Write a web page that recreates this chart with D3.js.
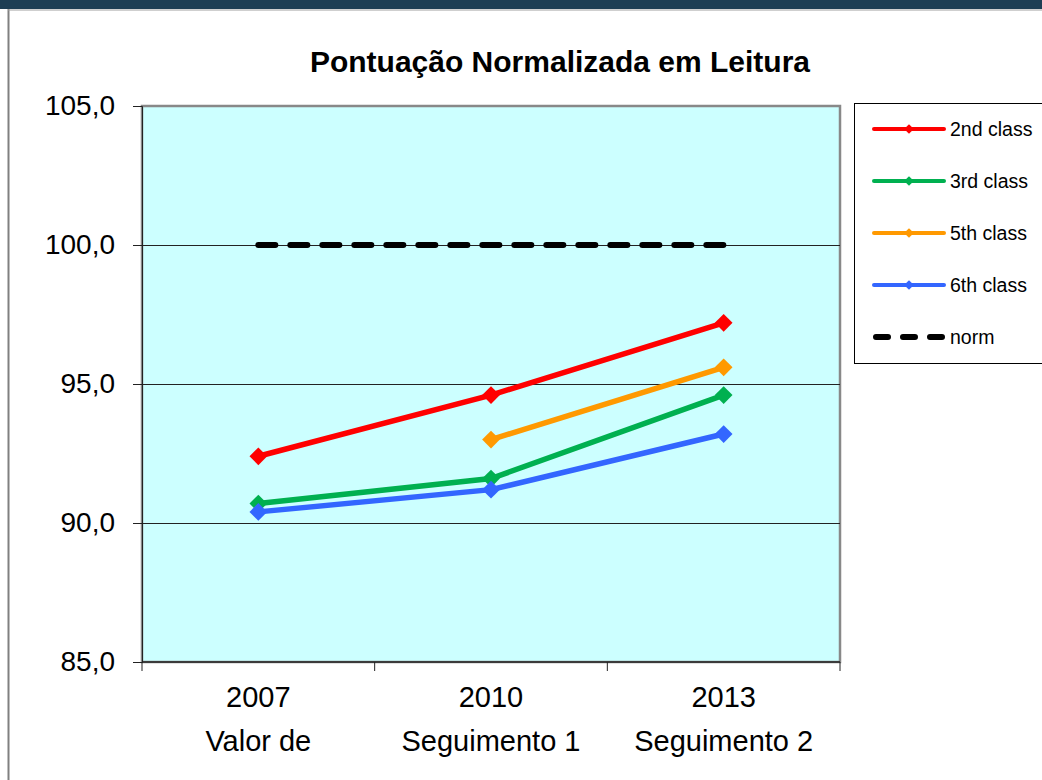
<!DOCTYPE html>
<html>
<head>
<meta charset="utf-8">
<script src="https://cdn.jsdelivr.net/npm/d3@7"></script>
<style>
  body { margin: 0; background: #fff; }
  text { font-family: "Liberation Sans", Arial, sans-serif; }
</style>
</head>
<body>
<div id="chart"></div>
<script>
// Data
const years = ["2007", "2010", "2013"];
const phases = ["Valor de", "Seguimento 1", "Seguimento 2"];
const class2 = [92.4, 94.6, 97.2];
const class3 = [90.7, 91.6, 94.6];
const class5 = [null, 93.0, 95.6];
const class6 = [90.4, 91.2, 93.2];
const norm = [100, 100, 100];
const yTicks = [85, 90, 95, 100, 105];

const seriesNames = ["2nd class", "3rd class", "5th class", "6th class"];
const seriesColors = ["#ff0000", "#00b050", "#ff9900", "#3366ff"];
const seriesValues = [class2, class3, class5, class6];

const width = 1042, height = 780;
const margin = { top: 106, right: 202, bottom: 118, left: 142 };

const svg = d3.select("#chart")
  .append("svg")
  .attr("width", width)
  .attr("height", height);

// frame
svg.append("rect").attr("x", 0).attr("y", 0).attr("width", width).attr("height", 9).attr("fill", "#1e3e54");
svg.append("line").attr("x1", 8.5).attr("x2", 8.5).attr("y1", 9).attr("y2", height)
  .attr("stroke", "#808080").attr("stroke-width", 2);
svg.append("line").attr("x1", 8).attr("x2", width).attr("y1", 10).attr("y2", 10)
  .attr("stroke", "#a0a0a0").attr("stroke-width", 1);

const x = d3.scaleBand()
  .domain(years)
  .range([margin.left, width - margin.right])
  .padding(0);

const y = d3.scaleLinear()
  .domain([85, 105])
  .range([height - margin.bottom, margin.top]);

const cx = d => x(d) + x.bandwidth() / 2;

// plot background
svg.append("rect")
  .attr("x", margin.left).attr("y", y(105))
  .attr("width", x.range()[1] - margin.left)
  .attr("height", y(85) - y(105))
  .attr("fill", "#ccffff")
  .attr("stroke", "#888")
  .attr("stroke-width", 2.5);

// gridlines
svg.selectAll(".grid")
  .data([90, 95, 100])
  .enter().append("line")
  .attr("x1", margin.left).attr("x2", x.range()[1])
  .attr("y1", d => Math.round(y(d)) + 0.5).attr("y2", d => Math.round(y(d)) + 0.5)
  .attr("stroke", "#222").attr("stroke-width", 1);

// y axis
const yAxis = svg.append("g")
  .attr("transform", `translate(${margin.left},0)`)
  .call(d3.axisLeft(y).tickValues(yTicks).tickSize(9).tickPadding(18)
    .tickFormat(d => d3.format(".1f")(d).replace(".", ",")));
yAxis.selectAll("text").style("font-size", "28px").style("fill", "#000")
  .style("font-family", "'Liberation Sans', Arial, sans-serif");
yAxis.selectAll("line, .domain").style("stroke", "#222");

// x axis
const xAxisY = y(85);
svg.append("line")
  .attr("x1", margin.left).attr("x2", x.range()[1])
  .attr("y1", xAxisY).attr("y2", xAxisY)
  .attr("stroke", "#222").attr("stroke-width", 1.5);
const bounds = years.map(d => x(d)).concat([x.range()[1]]);
svg.selectAll(".xtick")
  .data(bounds)
  .enter().append("line")
  .attr("x1", d => d).attr("x2", d => d)
  .attr("y1", xAxisY).attr("y2", xAxisY + 9)
  .attr("stroke", "#222").attr("stroke-width", 1);

const xLabels = svg.selectAll(".xlabel")
  .data(years)
  .enter().append("text")
  .attr("text-anchor", "middle")
  .style("font-size", "29px")
  .style("fill", "#000");
xLabels.append("tspan").attr("x", d => cx(d)).attr("y", 707).text(d => d);
xLabels.append("tspan").attr("x", d => cx(d)).attr("y", 751).text((d, i) => phases[i]);

// norm line
const line = d3.line()
  .defined(d => d[1] != null)
  .x(d => cx(d[0]))
  .y(d => y(d[1]));

svg.append("path")
  .datum(years.map((yr, i) => [yr, norm[i]]))
  .attr("d", line)
  .attr("fill", "none")
  .attr("stroke", "#000")
  .attr("stroke-width", 6)
  .attr("stroke-linecap", "round")
  .attr("stroke-dasharray", "17,15");

// series
const diamond = d3.symbol().type(d3.symbolDiamond2);
seriesValues.forEach((vals, s) => {
  const pts = years.map((yr, i) => [yr, vals[i]]);
  svg.append("path")
    .datum(pts)
    .attr("d", line)
    .attr("fill", "none")
    .attr("stroke", seriesColors[s])
    .attr("stroke-width", 5.5);
  svg.selectAll(null)
    .data(pts.filter(d => d[1] != null))
    .enter().append("path")
    .attr("transform", d => `translate(${cx(d[0])},${y(d[1])})`)
    .attr("d", diamond.size(200)())
    .attr("fill", seriesColors[s]);
});

// title
svg.append("text")
  .attr("x", 560).attr("y", 72)
  .attr("text-anchor", "middle")
  .style("font-size", "30px")
  .style("font-weight", "bold")
  .text("Pontuação Normalizada em Leitura");

// legend
const legend = svg.append("g");
legend.append("rect")
  .attr("x", 854.5).attr("y", 103.5)
  .attr("width", 200).attr("height", 260)
  .attr("fill", "#fff").attr("stroke", "#000").attr("stroke-width", 1);

const legendNames = seriesNames.concat(["norm"]);
const legendColors = seriesColors.concat(["#000"]);
legendNames.forEach((name, i) => {
  const ly = 129 + i * 52;
  const g = legend.append("g");
  if (name === "norm") {
    g.append("line")
      .attr("x1", 876).attr("x2", 942).attr("y1", ly).attr("y2", ly)
      .attr("stroke", "#000").attr("stroke-width", 6)
      .attr("stroke-linecap", "round").attr("stroke-dasharray", "12,15");
  } else {
    g.append("line")
      .attr("x1", 874).attr("x2", 944).attr("y1", ly).attr("y2", ly)
      .attr("stroke", legendColors[i]).attr("stroke-width", 4)
      .attr("stroke-linecap", "round");
    g.append("path")
      .attr("transform", `translate(909,${ly})`)
      .attr("d", diamond.size(60)())
      .attr("fill", legendColors[i]);
  }
  g.append("text")
    .attr("x", 950).attr("y", ly + 7)
    .style("font-size", "19.5px")
    .text(name);
});
</script>
</body>
</html>
